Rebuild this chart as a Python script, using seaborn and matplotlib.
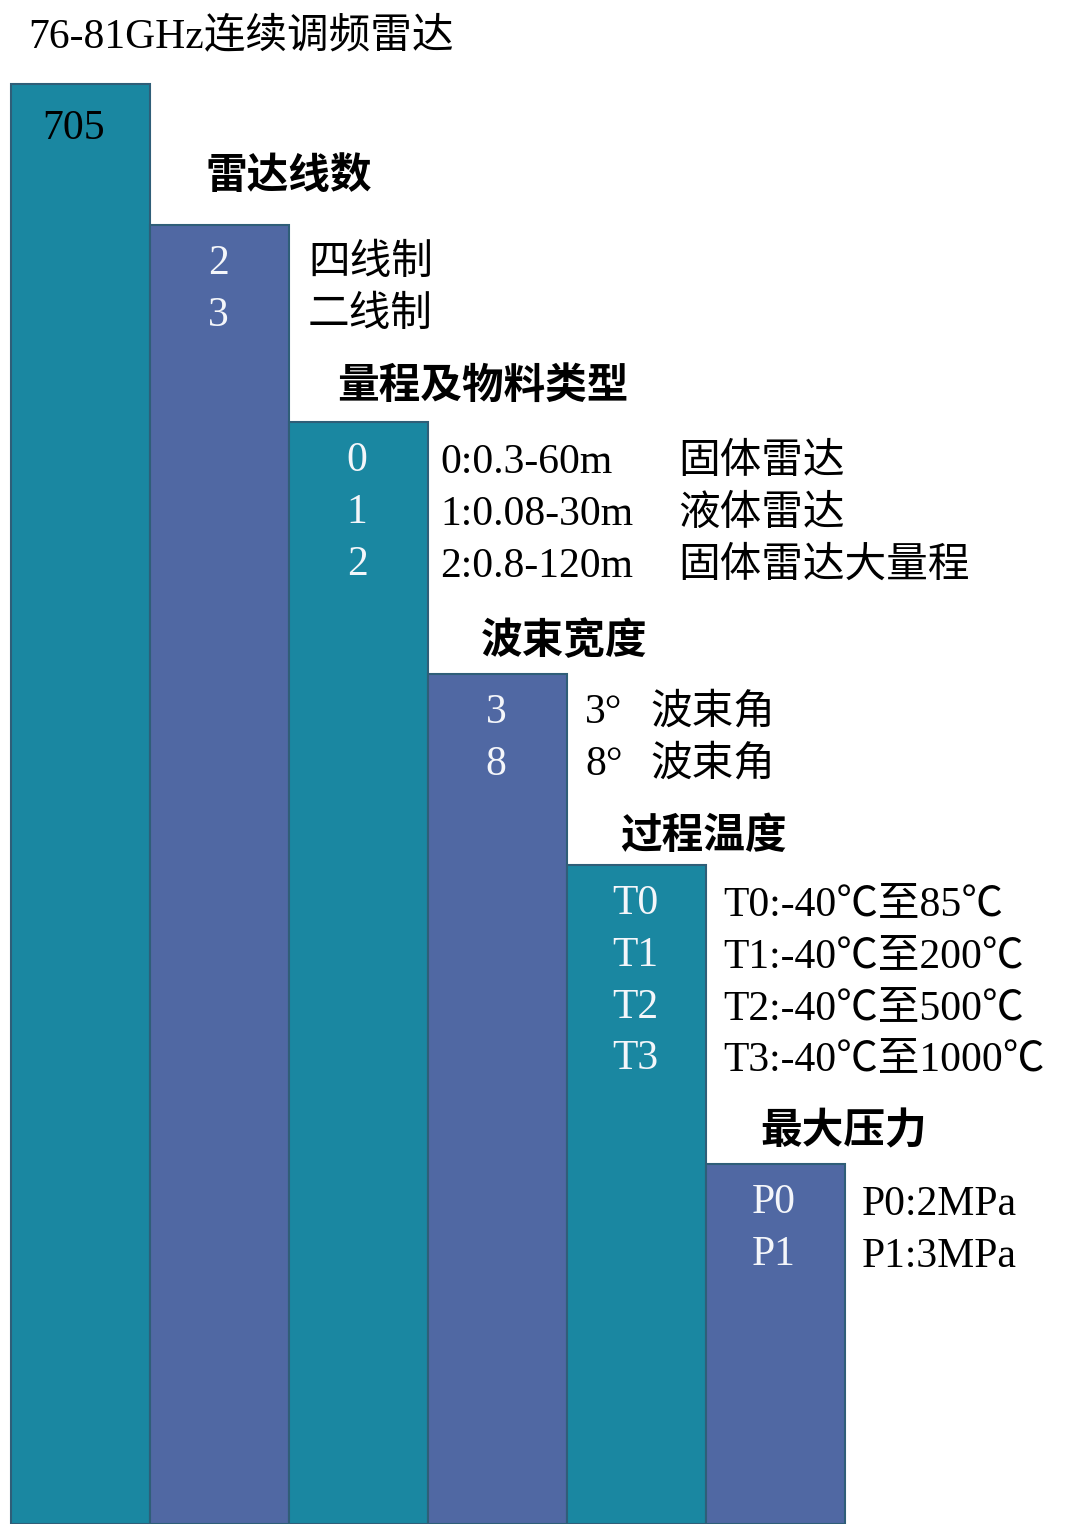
import matplotlib
matplotlib.use("Agg")
import matplotlib.pyplot as plt
import seaborn as sns
import pandas as pd

# ---------------- data ----------------
title = "76-81GHz连续调频雷达"
segments = ["705", "雷达线数", "量程及物料类型", "波束宽度", "过程温度", "最大压力"]
# step heights (pixel units measured from the bottom of the picture)
step_heights = [1440, 1299, 1102, 850, 659, 360]

codes_lines = ["2", "3"]
desc_lines = ["四线制", "二线制"]

codes_range = ["0", "1", "2"]
desc_range = ["0:0.3-60m", "1:0.08-30m", "2:0.8-120m"]
desc_material = ["固体雷达", "液体雷达", "固体雷达大量程"]

codes_beam = ["3", "8"]
desc_beam_deg = ["3°", "8°"]
desc_beam = ["波束角", "波束角"]

codes_temp = ["T0", "T1", "T2", "T3"]
desc_temp = ["T0:-40℃至85℃", "T1:-40℃至200℃", "T2:-40℃至500℃", "T3:-40℃至1000℃"]

codes_press = ["P0", "P1"]
desc_press = ["P0:2MPa", "P1:3MPa"]

# ---------------- style ----------------
sns.set_theme(style="white")
FAM = ["Liberation Serif", "Noto Sans CJK SC", "DejaVu Sans"]
plt.rcParams["font.family"] = FAM

W, H = 1067, 1524
TEAL = "#1A87A1"
BLUE = "#5068A3"
palette = [TEAL, BLUE, TEAL, BLUE, TEAL, BLUE]

fig = plt.figure(figsize=(W / 100, H / 100), dpi=100)
ax = fig.add_axes([0, 0, 1, 1])

df = pd.DataFrame({"segment": segments, "height": step_heights})
sns.barplot(data=df, x="segment", y="height", hue="segment", order=segments,
            hue_order=segments, palette=palette, width=1.0, legend=False,
            saturation=1, edgecolor="#2F5E78", linewidth=1.5, ax=ax)

BAR_PX = 139.0
LEFT_PX = 11.0
ax.set_xlim(-0.5 - LEFT_PX / BAR_PX, -0.5 + (W - LEFT_PX) / BAR_PX)
ax.set_ylim(0, H)
ax.axis("off")


def X(px):
    return -0.5 + (px - LEFT_PX) / BAR_PX


def Y(py):
    return H - py


FS = 30
DY = 4  # small baseline correction


def txt(px, py, s, color="black", ha="left", weight="normal", size=FS):
    ax.text(X(px), Y(py + DY), s, color=color, ha=ha, va="center",
            fontsize=size, fontweight=weight, family=FAM)


# title
txt(28, 33, title)
# first bar label
txt(42, 125, segments[0])

head_y = [173, 383, 638, 833, 1128]
head_dx = [55, 48, 53, 53, 54]
groups = [codes_lines, codes_range, codes_beam, codes_temp, codes_press]
bar_tops = [H - h for h in step_heights]


def line_y(i, j):
    return bar_tops[i] + 35 + 51.7 * j


for i in range(1, 6):
    center_px = LEFT_PX + BAR_PX * (i + 0.5)
    txt(LEFT_PX + BAR_PX * i + head_dx[i - 1], head_y[i - 1], segments[i], weight="bold")
    for j, c in enumerate(groups[i - 1]):
        txt(center_px - 1.5, line_y(i, j), c, color="#F4F6FA", ha="center")

# descriptions
r = LEFT_PX + BAR_PX * 2
for j, d in enumerate(desc_lines):
    txt(r + 19, line_y(1, j), d)

r = LEFT_PX + BAR_PX * 3
for j, (a, b) in enumerate(zip(desc_range, desc_material)):
    txt(r + 12, line_y(2, j) + 2, a)
    txt(678, line_y(2, j) + 2, b)

r = LEFT_PX + BAR_PX * 4
for j, (a, b) in enumerate(zip(desc_beam_deg, desc_beam)):
    txt(r + 18, line_y(3, j), a)
    txt(650, line_y(3, j), b)

r = LEFT_PX + BAR_PX * 5
for j, d in enumerate(desc_temp):
    txt(r + 17, line_y(4, j) + 2, d)

r = LEFT_PX + BAR_PX * 6
for j, d in enumerate(desc_press):
    txt(r + 17, line_y(5, j) + 2, d)

fig.savefig("out.png", dpi=100)
